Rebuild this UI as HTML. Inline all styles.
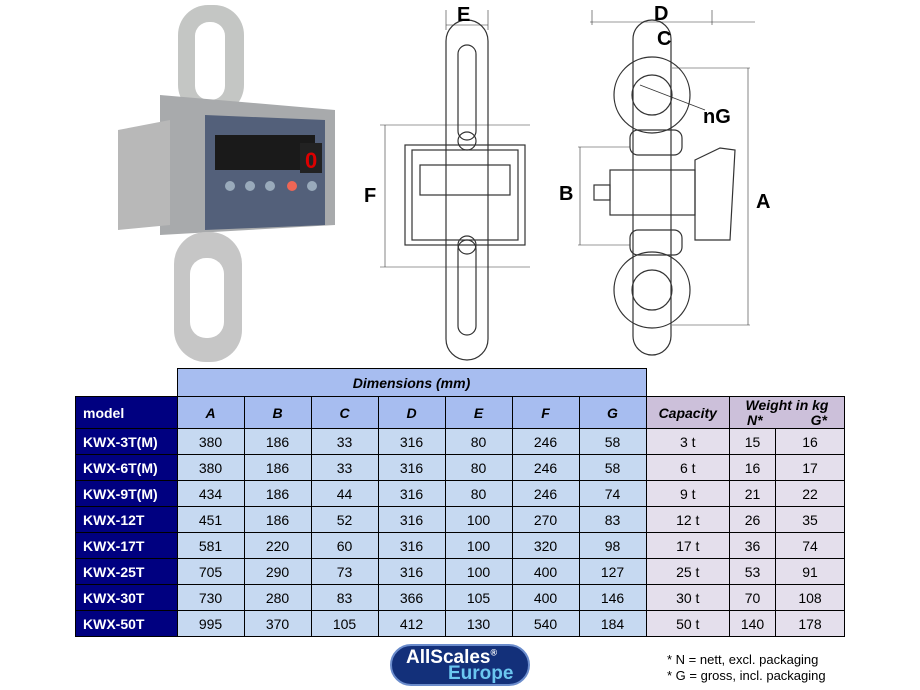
<!DOCTYPE html>
<html><head><meta charset="utf-8"><style>
body{margin:0;width:920px;height:690px;background:#fff;position:relative;overflow:hidden;font-family:"Liberation Sans",Arial,sans-serif}
table{position:absolute;left:75px;top:368px;border-collapse:collapse;font-size:14px}
td{border:1px solid #000;text-align:center;padding:0;height:25px}
.m{background:#000080;color:#fff;font-weight:bold;text-align:left;padding-left:7px;font-size:14px}
.h{background:#a7bdf0;font-weight:bold;font-style:italic;height:31px}
.d{background:#c6d9f1}
.ch{background:#ccc0da;font-weight:bold;font-style:italic}
.c{background:#e4dfec}
.nb{border:none;background:#fff}
.lbl{position:absolute;font-weight:bold;font-size:20px}
</style></head><body>
<svg width="920" height="365" style="position:absolute;left:0;top:0" fill="none" stroke="#333" stroke-width="1.2">
<!-- photo -->
<g stroke="none">
<rect x="178" y="5" width="66" height="110" rx="30" fill="#c4c6c4"/>
<rect x="195" y="22" width="30" height="78" rx="14" fill="#fff"/>
<path d="M160,95 L335,110 L335,225 L160,235z" fill="#a8aaac"/>
<path d="M118,130 L170,120 L170,225 L118,230z" fill="#b8b8b8"/>
<path d="M205,115 L325,120 L325,225 L205,230z" fill="#53607a"/>
<rect x="215" y="135" width="100" height="35" fill="#1a1a1a"/>
<rect x="300" y="143" width="22" height="30" fill="#222"/>
<text x="305" y="168" font-size="22" fill="#d00" font-weight="bold">0</text>
<circle cx="230" cy="186" r="5" fill="#9ab"/><circle cx="250" cy="186" r="5" fill="#9ab"/><circle cx="270" cy="186" r="5" fill="#9ab"/><circle cx="292" cy="186" r="5" fill="#e65"/><circle cx="312" cy="186" r="5" fill="#9ab"/>
<rect x="174" y="232" width="68" height="130" rx="32" fill="#c6c6c6"/>
<rect x="190" y="258" width="34" height="80" rx="16" fill="#fff"/>
</g>
<!-- front view -->
<rect x="446" y="20" width="42" height="340" rx="21"/>
<rect x="458" y="45" width="18" height="95" rx="9"/>
<rect x="458" y="240" width="18" height="95" rx="9"/>
<rect x="405" y="145" width="120" height="100"/>
<rect x="412" y="150" width="106" height="90"/>
<rect x="420" y="165" width="90" height="30"/>
<circle cx="467" cy="141" r="9"/><circle cx="467" cy="245" r="9"/>
<line x1="380" y1="125" x2="530" y2="125" stroke-width=".6"/>
<line x1="380" y1="267" x2="530" y2="267" stroke-width=".6"/>
<line x1="385" y1="125" x2="385" y2="267" stroke-width=".6"/>
<line x1="446" y1="10" x2="446" y2="30" stroke-width=".6"/><line x1="488" y1="10" x2="488" y2="30" stroke-width=".6"/>
<line x1="446" y1="25" x2="488" y2="25" stroke-width=".6"/>
<!-- side view -->
<circle cx="652" cy="95" r="38"/><circle cx="652" cy="95" r="20"/>
<circle cx="652" cy="290" r="38"/><circle cx="652" cy="290" r="20"/>
<rect x="633" y="20" width="38" height="335" rx="19"/>
<rect x="630" y="130" width="52" height="25" rx="8"/>
<rect x="630" y="230" width="52" height="25" rx="8"/>
<rect x="610" y="170" width="85" height="45"/>
<rect x="594" y="185" width="16" height="15"/>
<path d="M695,160 L720,148 L735,150 L730,240 L695,240z"/>
<line x1="590" y1="22" x2="755" y2="22" stroke-width=".6"/>
<line x1="592" y1="10" x2="592" y2="25" stroke-width=".6"/><line x1="712" y1="10" x2="712" y2="25" stroke-width=".6"/>
<line x1="578" y1="147" x2="630" y2="147" stroke-width=".6"/><line x1="578" y1="245" x2="630" y2="245" stroke-width=".6"/>
<line x1="580" y1="147" x2="580" y2="245" stroke-width=".6"/>
<line x1="672" y1="68" x2="750" y2="68" stroke-width=".6"/><line x1="672" y1="325" x2="750" y2="325" stroke-width=".6"/>
<line x1="748" y1="68" x2="748" y2="325" stroke-width=".6"/>
<line x1="640" y1="85" x2="705" y2="110" stroke-width=".8"/>
</svg>
<div class="lbl" style="left:457px;top:4px">E</div>
<div class="lbl" style="left:654px;top:3px">D</div>
<div class="lbl" style="left:657px;top:28px">C</div>
<div class="lbl" style="left:703px;top:106px">nG</div>
<div class="lbl" style="left:364px;top:185px">F</div>
<div class="lbl" style="left:559px;top:183px">B</div>
<div class="lbl" style="left:756px;top:191px">A</div>
<table>
<tr style="height:28px"><td class="nb" style="width:101px"></td><td colspan="7" class="h" style="height:27px">Dimensions (mm)</td><td class="nb" style="width:83px"></td><td class="nb"></td><td class="nb"></td></tr>
<tr><td class="m" style="height:31px">model</td>
<td class="h" style="width:66px">A</td><td class="h" style="width:66px">B</td><td class="h" style="width:66px">C</td><td class="h" style="width:66px">D</td><td class="h" style="width:66px">E</td><td class="h" style="width:66px">F</td><td class="h" style="width:66px">G</td>
<td class="ch">Capacity</td><td class="ch" colspan="2" style="line-height:15px">Weight in kg<br><span style="display:inline-block;width:40px;text-align:left">N*</span><span style="display:inline-block;width:40px;text-align:right">G*</span></td></tr>
<tr><td class="m">KWX-3T(M)</td><td class="d">380</td><td class="d">186</td><td class="d">33</td><td class="d">316</td><td class="d">80</td><td class="d">246</td><td class="d">58</td><td class="c">3 t</td><td class="c" style="width:45px">15</td><td class="c" style="width:68px">16</td></tr>
<tr><td class="m">KWX-6T(M)</td><td class="d">380</td><td class="d">186</td><td class="d">33</td><td class="d">316</td><td class="d">80</td><td class="d">246</td><td class="d">58</td><td class="c">6 t</td><td class="c">16</td><td class="c">17</td></tr>
<tr><td class="m">KWX-9T(M)</td><td class="d">434</td><td class="d">186</td><td class="d">44</td><td class="d">316</td><td class="d">80</td><td class="d">246</td><td class="d">74</td><td class="c">9 t</td><td class="c">21</td><td class="c">22</td></tr>
<tr><td class="m">KWX-12T</td><td class="d">451</td><td class="d">186</td><td class="d">52</td><td class="d">316</td><td class="d">100</td><td class="d">270</td><td class="d">83</td><td class="c">12 t</td><td class="c">26</td><td class="c">35</td></tr>
<tr><td class="m">KWX-17T</td><td class="d">581</td><td class="d">220</td><td class="d">60</td><td class="d">316</td><td class="d">100</td><td class="d">320</td><td class="d">98</td><td class="c">17 t</td><td class="c">36</td><td class="c">74</td></tr>
<tr><td class="m">KWX-25T</td><td class="d">705</td><td class="d">290</td><td class="d">73</td><td class="d">316</td><td class="d">100</td><td class="d">400</td><td class="d">127</td><td class="c">25 t</td><td class="c">53</td><td class="c">91</td></tr>
<tr><td class="m">KWX-30T</td><td class="d">730</td><td class="d">280</td><td class="d">83</td><td class="d">366</td><td class="d">105</td><td class="d">400</td><td class="d">146</td><td class="c">30 t</td><td class="c">70</td><td class="c">108</td></tr>
<tr><td class="m">KWX-50T</td><td class="d">995</td><td class="d">370</td><td class="d">105</td><td class="d">412</td><td class="d">130</td><td class="d">540</td><td class="d">184</td><td class="c">50 t</td><td class="c">140</td><td class="c">178</td></tr>
</table>
<div style="position:absolute;left:390px;top:644px;width:140px;height:42px;border-radius:21px;background:#13307a;border:2px solid #6b8ccc;box-sizing:border-box">
<div style="position:absolute;left:14px;top:1px;color:#fff;font-weight:bold;font-size:19px">AllScales<sup style="font-size:9px">®</sup></div>
<div style="position:absolute;left:56px;top:17px;color:#6bc6f0;font-weight:bold;font-size:19px">Europe</div></div>
<div style="position:absolute;left:667px;top:652px;font-size:13px;line-height:16px">* N = nett, excl. packaging<br>* G = gross, incl. packaging</div>
</body></html>
